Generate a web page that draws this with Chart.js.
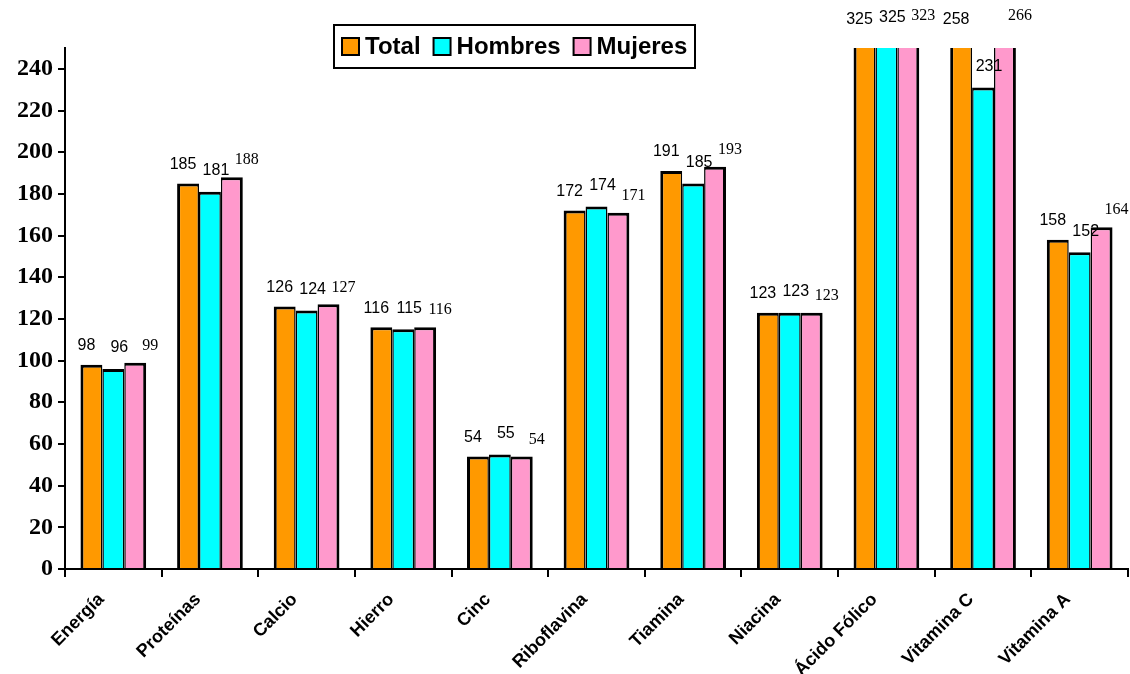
<!DOCTYPE html>
<html>
<head>
<meta charset="utf-8">
<script src="https://cdn.jsdelivr.net/npm/chart.js@4/dist/chart.umd.min.js"></script>
<style>
  html, body { margin: 0; padding: 0; background: #fff; }
  #wrap { width: 1130px; height: 674px; }
</style>
</head>
<body>
<div id="wrap"><canvas id="c" width="1130" height="674"></canvas></div>
<script>
const categories = ['Energía', 'Proteínas', 'Calcio', 'Hierro', 'Cinc', 'Riboflavina', 'Tiamina', 'Niacina', 'Ácido Fólico', 'Vitamina C', 'Vitamina A'];
const seriesNames = ['Total', 'Hombres', 'Mujeres'];
const totalValues   = [98, 185, 126, 116, 54, 172, 191, 123, 325, 258, 158];
const hombresValues = [96, 181, 124, 115, 55, 174, 185, 123, 325, 231, 152];
const mujeresValues = [99, 188, 127, 116, 54, 171, 193, 123, 323, 266, 164];
const yTickValues = [0, 20, 40, 60, 80, 100, 120, 140, 160, 180, 200, 220, 240];
const yMax = 250;

const seriesColors = ['#FF9900', '#00FFFF', '#FF99CC'];
const labelStyles = [
  { font: '16px "Liberation Sans", Arial, sans-serif', dx: -5, dy: -19, minY: 20 },
  { font: '16px "Liberation Sans", Arial, sans-serif', dx: 6, dy: -21, minY: 18 },
  { font: '16px "Liberation Serif", "Times New Roman", serif', dx: 15, dy: -17, minY: 16 }
];

const valueLabels = {
  id: 'valueLabels',
  afterDatasetsDraw(chart) {
    const ctx = chart.ctx;
    ctx.save();
    chart.data.datasets.forEach((ds, di) => {
      const meta = chart.getDatasetMeta(di);
      const st = labelStyles[di];
      ctx.font = st.font;
      ctx.fillStyle = '#000';
      ctx.textAlign = 'center';
      ctx.textBaseline = 'middle';
      meta.data.forEach((bar, i) => {
        const y = Math.max(bar.y + st.dy, st.minY);
        ctx.fillText(String(ds.data[i]), bar.x + st.dx, y);
      });
    });
    ctx.restore();
  }
};

const boxedLegend = {
  id: 'boxedLegend',
  afterDraw(chart) {
    const ctx = chart.ctx;
    ctx.save();
    ctx.font = 'bold 24px "Liberation Sans", Arial, sans-serif';
    const sq = 17, gapSq = 6, gapItem = 13, padX = 8;
    const widths = chart.data.datasets.map(d => ctx.measureText(d.label).width);
    let total = padX * 2;
    widths.forEach((w, i) => { total += sq + gapSq + w + (i < widths.length - 1 ? gapItem : 0); });
    const boxW = Math.round(total), boxH = 43;
    const cx = 514, top = 25;
    const left = Math.round(cx - boxW / 2);
    ctx.fillStyle = '#fff';
    ctx.fillRect(left, top, boxW, boxH);
    ctx.strokeStyle = '#000';
    ctx.lineWidth = 2;
    ctx.strokeRect(left, top, boxW, boxH);
    let x = left + padX;
    const midY = top + boxH / 2;
    chart.data.datasets.forEach((d, i) => {
      ctx.fillStyle = d.backgroundColor;
      ctx.fillRect(x, midY - sq / 2, sq, sq);
      ctx.strokeStyle = '#000';
      ctx.lineWidth = 2;
      ctx.strokeRect(x, midY - sq / 2, sq, sq);
      ctx.fillStyle = '#000';
      ctx.textAlign = 'left';
      ctx.textBaseline = 'middle';
      ctx.fillText(d.label, x + sq + gapSq, midY + 1);
      x += sq + gapSq + widths[i] + gapItem;
    });
    ctx.restore();
  }
};

const allValues = [totalValues, hombresValues, mujeresValues];
const borders = [
  { top: 3, left: 3, right: 1.5, bottom: 0 },
  { top: 3, left: 1.5, right: 1.5, bottom: 0 },
  { top: 3, left: 1.5, right: 3, bottom: 0 }
];

new Chart(document.getElementById('c'), {
  type: 'bar',
  data: {
    labels: categories,
    datasets: seriesNames.map((name, i) => ({
      label: name,
      data: allValues[i],
      backgroundColor: seriesColors[i],
      borderColor: '#000',
      borderWidth: borders[i],
      borderSkipped: false,
      categoryPercentage: 0.68,
      barPercentage: 1.0
    }))
  },
  options: {
    responsive: false,
    animation: false,
    layout: { padding: { top: 48, right: 2, left: 0, bottom: 0 } },
    plugins: { legend: { display: false }, tooltip: { enabled: false } },
    scales: {
      x: {
        grid: { display: true, drawOnChartArea: false, drawTicks: true, tickLength: 8, color: '#000', lineWidth: 2, offset: true },
        border: { display: true, color: '#000', width: 2 },
        ticks: {
          color: '#000',
          font: { family: '"Liberation Sans", Arial, sans-serif', size: 18, weight: 'bold' },
          minRotation: 45, maxRotation: 45, autoSkip: false, padding: 12, labelOffset: -12
        },
        afterFit(scale) { scale.height = 105; }
      },
      y: {
        min: 0, max: yMax,
        grid: { display: true, drawOnChartArea: false, drawTicks: true, tickLength: 7, color: '#000', lineWidth: 2 },
        border: { display: true, color: '#000', width: 2 },
        ticks: {
          color: '#000',
          padding: 5,
          font: { family: '"Liberation Serif", "Times New Roman", serif', size: 24, weight: 'bold' }
        },
        afterBuildTicks(scale) {
          scale.ticks = yTickValues.map(v => ({ value: v }));
        },
        afterFit(scale) { scale.width = 65; }
      }
    }
  },
  plugins: [valueLabels, boxedLegend]
});
</script>
</body>
</html>
